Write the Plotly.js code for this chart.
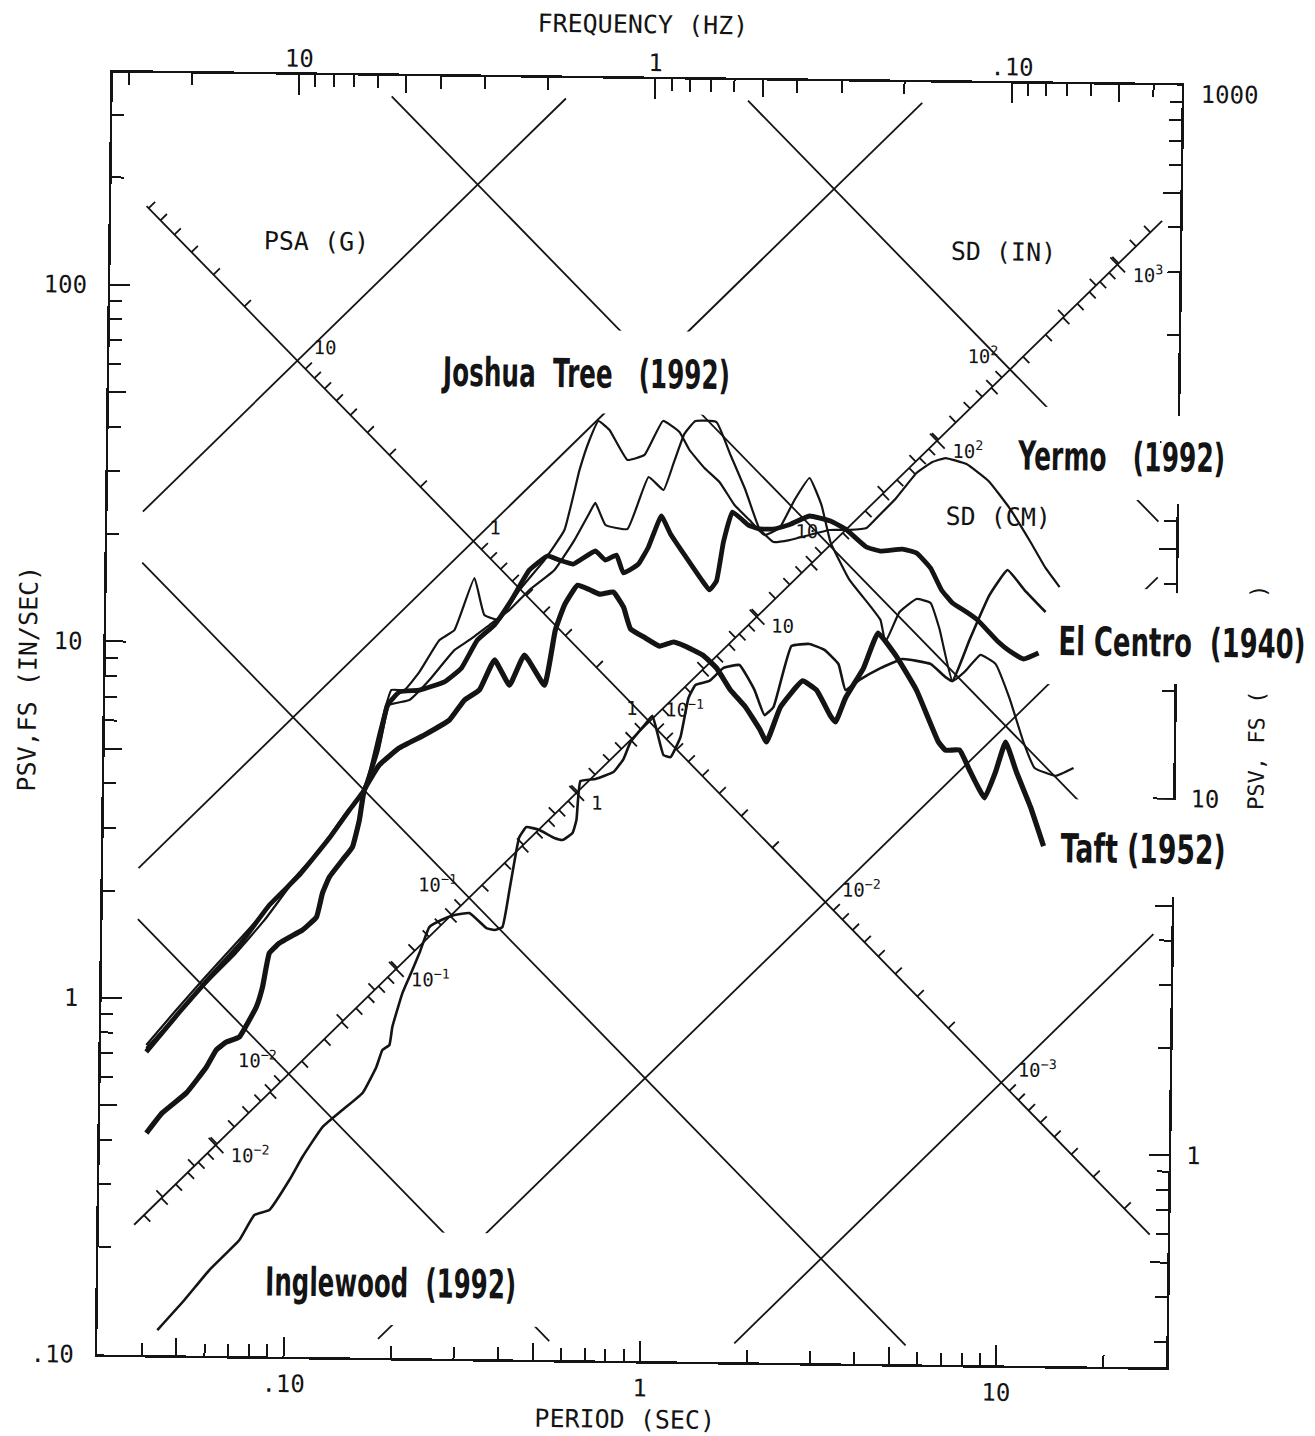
<!DOCTYPE html>
<html>
<head>
<meta charset="utf-8">
<script src="https://cdn.plot.ly/plotly-3.0.1.min.js"></script>
<style>
  html, body { margin: 0; padding: 0; background: #fff; overflow: hidden; }
  #chart { width: 1315px; height: 1436px; transform: rotate(0.7deg); transform-origin: 639.5px 720px; }
</style>
</head>
<body>
<div id="chart"></div>
<script>
// ---- Response spectra: period (s) and pseudo-velocity PSV (in/s) ----
const elCentroT = [0.0402,0.0497,0.0601,0.0728,0.0881,0.1067,0.1291,0.1466,0.1612,0.1749,0.1858,0.2008,0.2283,0.2681,0.299,0.3307,0.3686,0.4108,0.4604,0.5166,0.558,0.6114,0.7039,0.7513,0.8069,0.8452,0.9307,0.9916,1.075,1.142,1.2524,1.409,1.476,1.543,1.609,1.701,1.889,2.029,2.220,2.446,2.800,3.208,3.538,4.052,4.438,5.120,5.609,6.143,6.609,7.104,7.782,8.361,9.588,10.31,11.29,12.43];
const elCentroV = [0.708,0.918,1.147,1.421,1.845,2.246,2.858,3.43,3.91,5.06,6.77,7.38,7.48,7.90,8.65,10.38,11.45,13.48,16.39,17.96,17.51,17.09,18.62,17.58,18.17,16.19,17.18,19.19,23.47,20.91,18.28,15.47,14.61,15.48,19.93,24.21,22.28,21.75,21.76,22.36,23.74,23.01,21.89,19.52,19.04,19.32,18.86,17.14,14.88,13.69,12.93,12.29,10.68,10.08,9.59,9.98];

const taftT = [0.0405,0.0448,0.0523,0.0594,0.0632,0.0674,0.0733,0.0781,0.0816,0.0848,0.0884,0.0942,0.1005,0.1092,0.1195,0.124,0.1295,0.1407,0.1499,0.1565,0.1612,0.1773,0.2014,0.2366,0.2778,0.3057,0.3363,0.370,0.4083,0.4487,0.5119,0.547,0.5789,0.6288,0.6797,0.7253,0.7936,0.8477,0.8884,0.9795,1.073,1.174,1.261,1.418,1.554,1.703,1.879,2.062,2.159,2.356,2.712,2.970,3.260,3.366,3.584,4.018,4.402,4.934,5.666,6.561,6.870,7.518,8.085,8.872,9.502,10.12,10.88,11.95,13.04];
const taftV = [0.419,0.478,0.545,0.645,0.721,0.759,0.785,0.877,0.954,1.086,1.353,1.444,1.502,1.573,1.713,2.002,2.222,2.482,2.701,3.218,3.91,4.60,5.14,5.60,6.18,7.04,7.52,9.14,7.78,9.46,7.80,11.15,13.1,14.9,14.5,14.1,14.3,13.0,11.3,10.66,10.13,10.41,10.16,9.60,8.83,7.67,6.88,5.98,5.50,6.90,8.18,7.72,6.53,6.29,7.35,8.93,11.21,9.74,7.78,5.57,5.29,5.30,4.60,3.90,4.61,5.60,4.62,3.69,2.87];

const joshuaT = [0.0402,0.0481,0.0582,0.0705,0.0854,0.1033,0.1212,0.1421,0.1612,0.1769,0.1905,0.2072,0.228,0.2588,0.2849,0.3229,0.3453,0.3808,0.4322,0.5068,0.5754,0.6314,0.6716,0.7109,0.7639,0.8597,0.9594,1.0786,1.2006,1.2827,1.415,1.561,1.723,1.901,2.096,2.309,2.538,2.793,3.023,3.213,3.644,4.155,4.467,4.619,5.048,5.627,6.166,6.545,7.145,7.719,8.548,9.424,10.34,11.36,12.23,14.02,15.73];
const joshuaV = [0.726,0.883,1.095,1.333,1.673,2.173,2.642,3.319,3.91,5.76,7.47,7.47,8.41,10.35,11.05,15.49,12.21,11.84,14.38,17.49,21.27,31.39,38.11,43.12,40.72,33.61,34.75,43.35,40.43,36.01,32.1,29.36,25.34,23.01,20.92,21.91,26.29,30.34,25.50,20.10,15.76,13.42,12.20,10.59,12.86,14.01,13.67,11.56,8.27,8.78,9.81,9.27,7.44,5.61,4.75,4.52,4.76];

const yermoT = [0.0402,0.0481,0.0582,0.0705,0.0853,0.1033,0.1212,0.1421,0.1612,0.1771,0.1883,0.2142,0.2433,0.2853,0.3141,0.3569,0.4061,0.4611,0.5413,0.6144,0.6708,0.7012,0.7498,0.8645,0.987,1.088,1.157,1.2395,1.33,1.524,1.673,1.847,2.029,2.223,2.465,2.803,3.190,3.630,4.052,4.402,4.871,5.572,6.173,6.711,7.692,8.88,10.19,11.70,12.92,14.17];
const yermoV = [0.740,0.918,1.146,1.421,1.763,2.201,2.642,3.255,3.91,5.23,6.78,7.01,7.99,9.71,10.38,11.45,12.64,14.40,16.42,19.95,23.48,25.39,22.04,21.52,30.15,27.76,32.86,39.93,43.45,43.22,34.97,27.94,21.75,20.01,20.29,21.0,21.72,21.76,22.07,24.02,26.67,31.6,33.97,34.88,33.62,30.19,25.39,20.43,17.29,15.3];

const inglewoodT = [0.04416,0.05247,0.0615,0.0745,0.0819,0.0902,0.1024,0.1112,0.1263,0.1435,0.1632,0.1781,0.1849,0.1934,0.1968,0.2095,0.223,0.2331,0.248,0.2679,0.2913,0.3209,0.3586,0.3778,0.3976,0.415,0.4328,0.4405,0.4607,0.5012,0.5526,0.5822,0.6208,0.6362,0.6509,0.7171,0.805,0.8581,0.8967,0.9858,1.031,1.111,1.163,1.238,1.2993,1.358,1.486,1.626,1.802,1.989,2.126,2.252,2.518,2.829,3.116,3.416,3.581,3.919,4.485,5.167,6.19,6.83,7.145,7.951,9.02,10.11,11.30,12.97];
const inglewoodV = [0.1176,0.1431,0.174,0.2117,0.249,0.2575,0.313,0.3636,0.4418,0.494,0.5521,0.6541,0.7301,0.7546,0.8478,1.056,1.226,1.369,1.621,1.698,1.755,1.780,1.618,1.598,1.630,2.072,2.684,2.919,3.116,3.06,2.91,2.874,3.009,3.273,4.212,4.273,4.476,4.87,5.44,6.12,6.45,5.01,4.95,5.64,7.26,7.90,8.12,8.84,9.02,7.69,6.54,6.89,10.24,10.39,10.01,9.15,7.74,8.27,8.94,9.50,9.22,8.48,8.27,10.79,14.46,17.01,14.97,13.01];

// ---- Tripartite reference lines ----
const psaLinesG = [10, 1, 0.1, 0.01, 0.001];        // constant pseudo-acceleration (g)
const sdLinesIn = [0.01, 0.1, 1, 10, 100];          // constant displacement (in)
const psaScaleOnSd = 1;                              // PSA scale drawn along SD = 1 in
const sdScaleOnPsa = 0.1;                            // SD scales drawn along PSA = 0.1 g
const psaScaleLabels = [[10,'10'],[1,'1'],[0.1,'10<sup>−1</sup>'],[0.01,'10<sup>−2</sup>'],[0.001,'10<sup>−3</sup>']];
const sdInLabels = [[0.01,'10<sup>−2</sup>'],[0.1,'10<sup>−1</sup>'],[1,'1'],[10,'10'],[100,'10<sup>2</sup>']];
const sdCmLabels = [[0.01,'10<sup>−2</sup>'],[0.1,'10<sup>−1</sup>'],[1,'1'],[10,'10'],[100,'10<sup>2</sup>'],[1000,'10<sup>3</sup>']];

// ---- Frame tick values ----
const periodMajor = [0.1, 1, 10], periodMajorText = ['.10', '1', '10'];
const periodMid = [0.05, 0.5, 5];
const periodMinor = [0.04,0.06,0.07,0.08,0.09,0.2,0.3,0.4,0.6,0.7,0.8,0.9,2,3,4,6,7,8,9,20];
const freqMajor = [0.1, 1, 10], freqMajorText = ['.10', '1', '10'];
const freqMid = [0.05, 0.5, 5];
const freqMinor = [0.04,0.06,0.07,0.08,0.09,0.2,0.3,0.4,0.6,0.7,0.8,0.9,2,3,4,6,7,8,9,20,30];
const psvInMajor = [0.1, 1, 10, 100], psvInMajorText = ['.10', '1', '10', '100'];
const psvInMid = [0.5, 5, 50];
const psvInMinor = [0.2,0.3,0.4,0.6,0.7,0.8,0.9,2,3,4,6,7,8,9,20,30,40,60,70,80,90,200,300];
const psvCmMajor = [1, 10], psvCmMajorText = ['1', '10'];
const psvCmMid = [0.5, 5, 50, 100, 500, 1000];
const psvCmMinor = [0.3,0.4,0.6,0.7,0.8,0.9,2,3,4,6,7,8,9,20,30,40,60,70,80,90,200,300,400,600,700,800,900];

// ---- Geometry ----
const G_IN = 386.09, TWO_PI = 2 * Math.PI, CM = 2.54;
const M = { l: 105, r: 141, t: 79, b: 75 };
const W = 1315, H = 1436, PW = W - M.l - M.r, PH = H - M.t - M.b;
const XR = [Math.log10(0.03), Math.log10(30)];
const YR = [-1, Math.log10(1000 / CM)];
const FR = [Math.log10(1 / 0.03), Math.log10(1 / 30)];
const CR = [Math.log10(0.254), 3];
const PX_DEC = PW / (XR[1] - XR[0]);
// diagonal lines stop short of the frame
const LT0 = Math.log10(0.0377), LT1 = Math.log10(26.7), LV0 = Math.log10(0.113), LV1 = Math.log10(345);

const INK = '#141414';
const MONO = '"DejaVu Sans Mono", monospace';
const BOLD = '"DejaVu Sans", "Liberation Sans", sans-serif';

function cPsa(a) { return Math.log10(a * G_IN / TWO_PI); }   // log V = log T + c
function cSd(d) { return Math.log10(TWO_PI * d); }           // log V = -log T + c
function meet(a, d) { const ca = cPsa(a), cd = cSd(d); return [(cd - ca) / 2, (cd + ca) / 2]; }
function inBox(p) { return p[0] >= LT0 && p[0] <= LT1 && p[1] >= LV0 && p[1] <= LV1; }
function off(px) { return px / (Math.SQRT2 * PX_DEC); }

const gx = [], gy = [];
function seg(p, q) { gx.push(10 ** p[0], 10 ** q[0], null); gy.push(10 ** p[1], 10 ** q[1], null); }
psaLinesG.forEach(a => {
  const c = cPsa(a), s = Math.max(LT0, LV0 - c), e = Math.min(LT1, LV1 - c);
  if (s < e) seg([s, s + c], [e, e + c]);
});
sdLinesIn.forEach(d => {
  const c = cSd(d), s = Math.max(LT0, c - LV1), e = Math.min(LT1, c - LV0);
  if (s < e) seg([s, c - s], [e, c - e]);
});

// scale ticks
const tx = [], ty = [];
function tick(p, dir, a, b) {
  const d1 = off(a), d2 = off(b);
  tx.push(10 ** (p[0] + dir[0] * d1), 10 ** (p[0] + dir[0] * d2), null);
  ty.push(10 ** (p[1] + dir[1] * d1), 10 ** (p[1] + dir[1] * d2), null);
}
const mant = [2,3,4,5,6,7,8,9];
for (let k = -5; k <= 3; k++) {
  mant.forEach(m => {
    const v = m * 10 ** k;
    const pA = meet(v, psaScaleOnSd);                  // PSA (g), upper-right side
    if (inBox(pA)) tick(pA, [1, 1], 0, 9);
    const pI = meet(sdScaleOnPsa, v);                  // SD (in), upper-left side
    if (inBox(pI)) tick(pI, [-1, 1], 0, 9);
    const pC = meet(sdScaleOnPsa, v / CM);             // SD (cm), lower-right side
    if (inBox(pC)) tick(pC, [1, -1], 0, 9);
  });
  const pCd = meet(sdScaleOnPsa, 10 ** k / CM);
  if (inBox(pCd)) tick(pCd, [1, -1], -10, 11);
}

// white patches behind the curve labels (figure pixel boxes: x0, x1, y0, y1)
const labelMasks = [[421,741,331,414],[262,552,1235,1328],[1007,1257,402,494],[1044,1309,583,679],[1052,1242,794,891]];
function pxT(x) { return 10 ** (XR[0] + (x - M.l) / PW * (XR[1] - XR[0])); }
function pxV(y) { return 10 ** (YR[1] - (y - M.t) / PH * (YR[1] - YR[0])); }
const mx = [], my = [];
labelMasks.forEach(b => {
  mx.push(pxT(b[0]), pxT(b[1]), pxT(b[1]), pxT(b[0]), pxT(b[0]), null);
  my.push(pxV(b[2]), pxV(b[2]), pxV(b[3]), pxV(b[3]), pxV(b[2]), null);
});

const curve = (x, y, w) => ({ x, y, type: 'scatter', mode: 'lines', hoverinfo: 'skip',
  line: { color: INK, width: w, shape: 'spline', smoothing: 0.35 } });
const holder = (xa, ya) => ({ x: [1], y: [1], xaxis: xa, yaxis: ya, type: 'scatter', mode: 'none', hoverinfo: 'skip' });

const traces = [
  { x: gx, y: gy, type: 'scatter', mode: 'lines', hoverinfo: 'skip', line: { color: INK, width: 1.8 } },
  { x: tx, y: ty, type: 'scatter', mode: 'lines', hoverinfo: 'skip', line: { color: INK, width: 1.8 } },
  { x: mx, y: my, type: 'scatter', mode: 'lines', fill: 'toself', fillcolor: '#ffffff', hoverinfo: 'skip', line: { width: 0, color: 'rgba(0,0,0,0)' } },
  curve(joshuaT, joshuaV, 2.2),
  curve(yermoT, yermoV, 2.2),
  curve(inglewoodT, inglewoodV, 2.6),
  curve(elCentroT, elCentroV, 4.8),
  curve(taftT, taftV, 5.2),
  holder('x2', 'y'), holder('x', 'y2'), holder('x3', 'y'), holder('x4', 'y'), holder('x', 'y3'), holder('x', 'y4')
];

const tickFont = { family: MONO, size: 24, color: INK };
function axis(extra) {
  return Object.assign({
    type: 'log', showline: true, linecolor: INK, linewidth: 2.5, mirror: false,
    ticks: 'inside', ticklen: 20, tickwidth: 2, tickcolor: INK, tickmode: 'array',
    showgrid: false, zeroline: false, tickfont: tickFont, fixedrange: true
  }, extra);
}
function minor(vals) { return { tickmode: 'array', tickvals: vals, ticks: 'inside', ticklen: 12, tickwidth: 2, tickcolor: INK, showgrid: false }; }
function midAxis(extra) {
  return Object.assign({ type: 'log', showline: false, ticks: 'inside', ticklen: 17, tickwidth: 2, tickcolor: INK,
    tickmode: 'array', showticklabels: false, showgrid: false, zeroline: false, fixedrange: true }, extra);
}

const annotations = [];
function note(text, x, y, o) {
  annotations.push(Object.assign({ text, x, y, xref: 'paper', yref: 'paper', showarrow: false,
    xanchor: 'center', yanchor: 'middle', font: { family: MONO, size: 25, color: INK } }, o || {}));
}
note('FREQUENCY (HZ)', 0.4953, 1.0429);
note('PERIOD (SEC)', 0.4943, -0.046);
note('PSV,FS (IN/SEC)', -0.0725, 0.5269, { textangle: -90 });
note('PSV, FS (\u00a0\u00a0\u00a0\u00a0\u00a0\u00a0\u00a0)', 1.0775, 0.5238, { textangle: -90, font: { family: MONO, size: 22, color: INK } });
note('PSA (G)', 0.1919, 0.8705);
note('SD (IN)', 0.8347, 0.8685);
note('SD (CM)', 0.833, 0.6618);
// top label of the cm/s scale sits just under its corner tick
note('1000', 1.0453, 0.9931, { font: tickFont });

// curve names: text, paper x, paper y, drawn width (px)
const nb = '\u00a0';
const curveLabels = [
  ['Joshua' + nb + nb + 'Tree' + nb + nb + nb + '(1992)', 0.4456, 0.7701, 287],
  ['Yermo' + nb + nb + nb + '(1992)', 0.9479, 0.7098, 207],
  ['El Centro' + nb + nb + '(1940)', 1.0062, 0.5652, 247],
  ['Taft' + nb + '(1952)', 0.9720, 0.4041, 165],
  ['Inglewood' + nb + nb + '(1992)', 0.2735, 0.0585, 251]
];
curveLabels.forEach(([t, x, y]) => note(t, x, y, { font: { family: BOLD, size: 40, color: INK, weight: 'bold' } }));

const small = { family: MONO, size: 19, color: INK };
function scaleNote(t, p, xa, xs, ys) {
  annotations.push({ text: t, x: p[0], y: p[1], xref: 'x', yref: 'y', showarrow: false, font: small,
    xanchor: xa, yanchor: 'middle', xshift: xs, yshift: ys });
}
psaScaleLabels.forEach(([a, t]) => scaleNote(t, meet(a, psaScaleOnSd), 'left', 14, 14));
sdInLabels.forEach(([d, t]) => scaleNote(t, meet(sdScaleOnPsa, d), 'right', -10, 14));
sdCmLabels.forEach(([d, t]) => scaleNote(t, meet(sdScaleOnPsa, d / CM), 'left', 13, -9));

// breaks in the right-hand frame behind the labels
const axisGaps = [[0.6736, 0.7422], [0.5332, 0.6041], [0.3670, 0.4427]];
const shapes = axisGaps.map(g => ({ type: 'rect', xref: 'paper', yref: 'paper', x0: 0.985, x1: 1.02, y0: g[0], y1: g[1],
  fillcolor: '#ffffff', line: { width: 0 }, layer: 'above' }));

const layout = {
  width: W, height: H, margin: M, showlegend: false,
  paper_bgcolor: '#ffffff', plot_bgcolor: '#ffffff',
  font: { family: MONO, color: INK },
  xaxis: axis({ range: XR, tickvals: periodMajor, ticktext: periodMajorText, minor: minor(periodMinor), ticklabelstandoff: 4 }),
  xaxis2: axis({ overlaying: 'x', side: 'top', anchor: 'y', range: FR,
    tickvals: freqMajor, ticktext: freqMajorText, minor: minor(freqMinor), ticklabelstandoff: -4 }),
  yaxis: axis({ range: YR, tickvals: psvInMajor, ticktext: psvInMajorText, minor: minor(psvInMinor), ticklabelstandoff: 16 }),
  yaxis2: axis({ overlaying: 'y', side: 'right', anchor: 'x', range: CR,
    tickvals: psvCmMajor, ticktext: psvCmMajorText, minor: minor(psvCmMinor), ticklabelstandoff: 10 }),
  xaxis3: midAxis({ overlaying: 'x', side: 'bottom', anchor: 'y', range: XR, tickvals: periodMid }),
  xaxis4: midAxis({ overlaying: 'x', side: 'top', anchor: 'y', range: FR, tickvals: freqMid }),
  yaxis3: midAxis({ overlaying: 'y', side: 'left', anchor: 'x', range: YR, tickvals: psvInMid }),
  yaxis4: midAxis({ overlaying: 'y', side: 'right', anchor: 'x', range: CR, tickvals: psvCmMid }),
  annotations, shapes
};

Plotly.newPlot('chart', traces, layout, { staticPlot: true, displayModeBar: false }).then(gd => {
  // set the condensed width of the curve names
  const widths = new Map(curveLabels.map(c => [c[0], c[3]]));
  gd.querySelectorAll('text.annotation-text').forEach(el => {
    const w = widths.get(el.textContent);
    if (w) { el.setAttribute('textLength', w); el.setAttribute('lengthAdjust', 'spacingAndGlyphs'); }
  });
});
</script>
</body>
</html>
